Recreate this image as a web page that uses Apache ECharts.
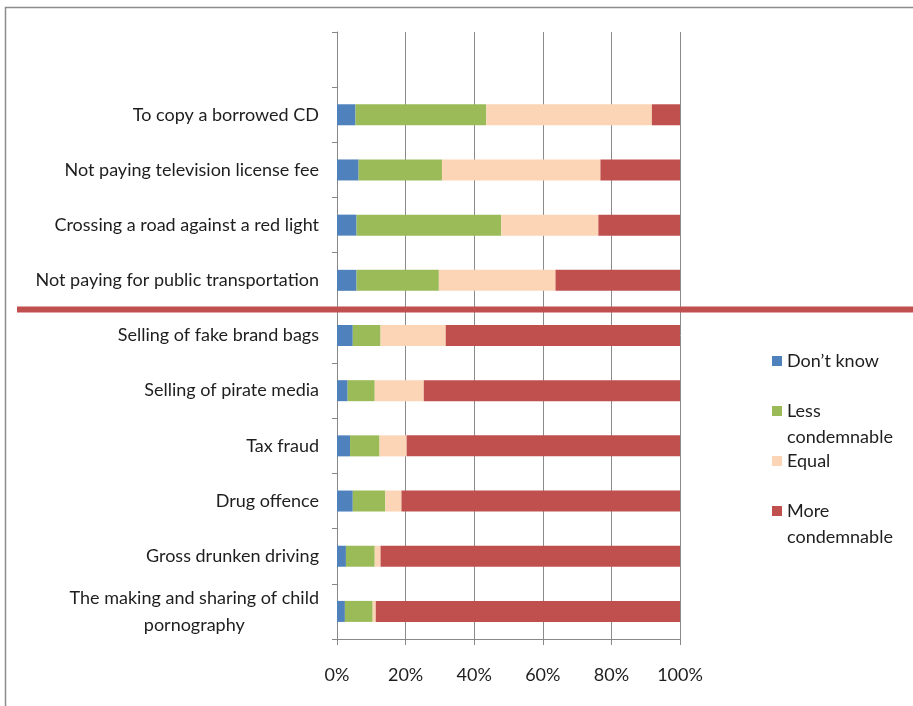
<!DOCTYPE html>
<html>
<head>
<meta charset="utf-8">
<script src="https://cdn.jsdelivr.net/npm/echarts@6/dist/echarts.min.js"></script>
<style>
html,body{margin:0;padding:0;background:#fff;}
#chart{width:913px;height:706px;}
</style>
</head>
<body>
<div id="chart"></div>
<script>
const categories = [
  '',
  'To copy a borrowed CD',
  'Not paying television license fee',
  'Crossing a road against a red light',
  'Not paying for public transportation',
  'Selling of fake brand bags',
  'Selling of pirate media',
  'Tax fraud',
  'Drug offence',
  'Gross drunken driving',
  'The making and sharing of child pornography'
];
const seriesNames = ['Don\u2019t know', 'Less condemnable', 'Equal', 'More condemnable'];
const dontKnow        = [null, 5.4, 6.3, 5.7, 5.7, 4.6, 3.1, 3.8, 4.6, 2.6, 2.3];
const lessCondemnable = [null, 38.1, 24.3, 42.2, 24.0, 8.1, 7.9, 8.6, 9.5, 8.4, 8.1];
const equal           = [null, 48.3, 46.2, 28.3, 34.0, 19.0, 14.3, 7.9, 4.7, 1.7, 0.9];
const moreCondemnable = [null, 8.2, 23.2, 23.8, 36.3, 68.3, 74.7, 79.7, 81.2, 87.3, 88.7];
const xTicks = [0, 20, 40, 60, 80, 100];

const colors = ['#4F81BD', '#9BBB59', '#FBD5B5', '#C0504D'];
const FONT = 'Lato';
const TEXT_COLOR = '#1e1e1e';
const seriesData = [dontKnow, lessCondemnable, equal, moreCondemnable];

const chart = echarts.init(document.getElementById('chart'), null, {renderer: 'canvas'});

// Two-word names wrap after the first word; an empty leading line keeps
// the first text line level with the legend square.
function wrapName(name) {
  return name.indexOf(' ') > 0 && name !== 'Don\u2019t know' ? '\n' + name.replace(' ', '\n') : name;
}

const option = {
  animation: false,
  backgroundColor: '#fff',
  textStyle: {fontFamily: FONT},
  grid: {left: 337, right: 233, top: 32, bottom: 67, containLabel: false},
  legend: {
    orient: 'vertical',
    left: 767,
    top: 343,
    itemWidth: 10,
    itemHeight: 10,
    itemGap: -2,
    icon: 'rect',
    selectedMode: false,
    data: seriesNames,
    formatter: wrapName,
    textStyle: {fontFamily: FONT, fontSize: 18, color: TEXT_COLOR, lineHeight: 26}
  },
  xAxis: {
    type: 'value',
    min: xTicks[0],
    max: xTicks[xTicks.length - 1],
    interval: 20,
    axisLine: {show: true, lineStyle: {color: '#888', width: 1}},
    axisTick: {show: true, length: 6, lineStyle: {color: '#888'}},
    splitLine: {show: true, lineStyle: {color: '#8a8a8a', width: 1}},
    axisLabel: {
      margin: 27,
      fontFamily: FONT,
      fontSize: 18,
      color: TEXT_COLOR,
      formatter: function (v) { return v + '%'; }
    }
  },
  yAxis: {
    type: 'category',
    inverse: true,
    data: categories,
    axisLine: {show: true, lineStyle: {color: '#888', width: 1}},
    axisTick: {show: true, length: 5, lineStyle: {color: '#888'}},
    splitLine: {show: false},
    axisLabel: {
      margin: 18,
      fontFamily: FONT,
      fontSize: 18,
      color: TEXT_COLOR,
      interval: 0,
      formatter: function (v) {
        if (v === 'The making and sharing of child pornography') {
          return '{c|The making and sharing of child}\n{c|pornography}';
        }
        return v;
      },
      rich: {
        c: {align: 'center', fontFamily: FONT, fontSize: 18, color: TEXT_COLOR, lineHeight: 27}
      }
    }
  },
  series: seriesNames.map(function (name, i) {
    return {
      name: name,
      type: 'bar',
      stack: 'total',
      barWidth: 21,
      data: seriesData[i],
      itemStyle: {color: colors[i]},
      emphasis: {disabled: true}
    };
  }),
  graphic: [
    {
      id: 'frame',
      type: 'rect',
      silent: true,
      shape: {x: 5.5, y: 7.5, width: 2000, height: 2000},
      style: {fill: 'none', stroke: '#8c8c8c', lineWidth: 1.5},
      z: 100
    }
  ]
};

chart.setOption(option);

// Red separator between the two groups, placed on the category boundary
const yA = chart.convertToPixel({yAxisIndex: 0}, categories[4]);
const yB = chart.convertToPixel({yAxisIndex: 0}, categories[5]);
const sepY = (yA + yB) / 2 + 1.5;
chart.setOption({
  graphic: [
    {
      id: 'separator',
      type: 'line',
      silent: true,
      shape: {x1: 17, y1: sepY, x2: 913, y2: sepY},
      style: {stroke: '#C0504D', lineWidth: 6},
      z: 100
    }
  ]
});
</script>
</body>
</html>
